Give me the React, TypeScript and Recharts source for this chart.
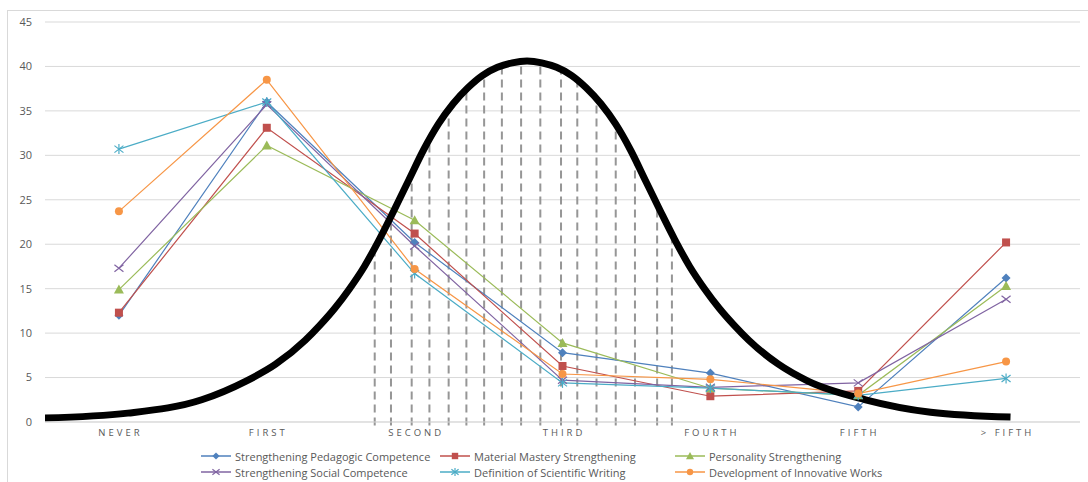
import { LineChart, Line, XAxis, YAxis, CartesianGrid, ReferenceLine } from "recharts";

const categories = ["NEVER", "FIRST", "SECOND", "THIRD", "FOURTH", "FIFTH", "> FIFTH"];

const pedagogic = [12.0, 36.0, 20.2, 7.8, 5.5, 1.7, 16.2];
const material = [12.3, 33.1, 21.2, 6.3, 2.9, 3.5, 20.2];
const personality = [14.9, 31.1, 22.7, 8.9, 3.8, 3.0, 15.3];
const social = [17.3, 35.7, 19.8, 4.7, 3.9, 4.4, 13.8];
const writing = [30.7, 36.0, 16.7, 4.4, 3.8, 3.0, 4.9];
const innovative = [23.7, 38.5, 17.2, 5.4, 4.8, 3.2, 6.8];

const yTicks = [0, 5, 10, 15, 20, 25, 30, 35, 40, 45];

// bell curve: position in category units, height
const curvePos = [
  -0.51, 0.06, 0.56, 0.86, 1.06, 1.26, 1.36, 1.46, 1.56, 1.66, 1.76, 1.86, 1.96, 2.06, 2.16, 2.26, 2.36, 2.46, 2.56, 2.66, 2.76,
  2.86, 2.96, 3.06, 3.16, 3.26, 3.36, 3.46, 3.56, 3.66, 3.76, 3.86, 3.96, 4.06, 4.16, 4.26, 4.46, 4.66, 5.05, 5.49, 6.03,
];
const curveHeight = [
  0.45, 1.0, 2.5, 4.6, 6.5, 9.2, 10.9, 12.8, 15.0, 17.5, 20.5, 23.8, 27.2, 30.6, 33.5, 35.8, 37.6, 39.0, 39.9, 40.4, 40.6,
  40.4, 39.9, 39.0, 37.6, 35.8, 33.5, 30.6, 27.2, 23.8, 20.5, 17.5, 15.0, 12.8, 10.9, 9.2, 6.5, 4.6, 2.5, 1.1, 0.55,
];

// dashed drop lines under the curve
const dashPos = [1.73, 1.84, 1.98, 2.1, 2.23, 2.35, 2.47, 2.59, 2.72, 2.85, 2.99, 3.1, 3.23, 3.36, 3.49, 3.64, 3.74];
const dashTop = [19.6, 23.1, 27.9, 31.8, 35.1, 37.5, 39.1, 40.1, 40.5, 40.4, 39.7, 38.5, 36.3, 33.5, 29.6, 24.5, 21.1];

const FONT = "'Open Sans', 'Liberation Sans', sans-serif";

type SeriesDef = { key: string; name: string; color: string; shape: string; values: number[] };

const series: SeriesDef[] = [
  { key: "pedagogic", name: "Strengthening Pedagogic Competence", color: "#4F81BD", shape: "diamond", values: pedagogic },
  { key: "material", name: "Material Mastery Strengthening", color: "#C0504D", shape: "square", values: material },
  { key: "personality", name: "Personality Strengthening", color: "#9BBB59", shape: "triangle", values: personality },
  { key: "social", name: "Strengthening Social Competence", color: "#8064A2", shape: "x", values: social },
  { key: "writing", name: "Definition of Scientific Writing", color: "#4BACC6", shape: "star", values: writing },
  { key: "innovative", name: "Development of Innovative Works", color: "#F79646", shape: "circle", values: innovative },
];

const rows = categories.map((cat, i) => {
  const row: Record<string, string | number> = { cat };
  series.forEach((s) => (row[s.key] = s.values[i]));
  return row;
});

const curveRows = curvePos.map((u, i) => ({ u, v: curveHeight[i] }));

function Marker({ cx, cy, shape, color, s = 1 }: { cx: number; cy: number; shape: string; color: string; s?: number }) {
  if (cx == null || cy == null) return null;
  switch (shape) {
    case "diamond":
      return <polygon points={`${cx},${cy - 4.5 * s} ${cx + 4.5 * s},${cy} ${cx},${cy + 4.5 * s} ${cx - 4.5 * s},${cy}`} fill={color} />;
    case "square":
      return <rect x={cx - 4 * s} y={cy - 4 * s} width={8 * s} height={8 * s} fill={color} />;
    case "triangle":
      return <polygon points={`${cx},${cy - 5 * s} ${cx + 5 * s},${cy + 4 * s} ${cx - 5 * s},${cy + 4 * s}`} fill={color} />;
    case "circle":
      return <circle cx={cx} cy={cy} r={4 * s} fill={color} />;
    case "x":
      return (
        <g stroke={color} strokeWidth={1.2}>
          <line x1={cx - 4.5 * s} y1={cy - 3.5 * s} x2={cx + 4.5 * s} y2={cy + 3.5 * s} />
          <line x1={cx - 4.5 * s} y1={cy + 3.5 * s} x2={cx + 4.5 * s} y2={cy - 3.5 * s} />
        </g>
      );
    default:
      return (
        <g stroke={color} strokeWidth={1.2}>
          <line x1={cx - 4.5 * s} y1={cy - 3.5 * s} x2={cx + 4.5 * s} y2={cy + 3.5 * s} />
          <line x1={cx - 4.5 * s} y1={cy + 3.5 * s} x2={cx + 4.5 * s} y2={cy - 3.5 * s} />
          <line x1={cx} y1={cy - 5 * s} x2={cx} y2={cy + 5 * s} />
        </g>
      );
  }
}

const CatTick = ({ x, y, payload }: any) => (
  <text x={x + 1.5} y={y + 6} textAnchor="middle" fontSize={9.5} letterSpacing={3} fill="#595959" fontFamily={FONT}>
    {payload.value}
  </text>
);

const legendCols = [201, 440, 675];

export default function App() {
  return (
    <div style={{ position: "absolute", left: 0, top: 0, width: 1088, height: 482, overflow: "hidden", background: "#fff" }}>
      <div style={{ position: "absolute", left: 7, top: 10, width: 1100, height: 500, border: "1px solid #d9d9d9" }} />
      <div style={{ position: "absolute", left: 0, top: 0 }}>
        <LineChart width={1088} height={482} data={rows} margin={{ top: 22, right: 8, left: 0, bottom: 40 }}>
          <CartesianGrid vertical={false} stroke="#d9d9d9" />
          <XAxis
            xAxisId="cat"
            dataKey="cat"
            scale="band"
            tickLine={false}
            axisLine={{ stroke: "#d9d9d9" }}
            height={20}
            tick={<CatTick />}
            interval={0}
          />
          <XAxis xAxisId="curve" type="number" dataKey="u" domain={[-0.5, 6.5]} hide allowDataOverflow />
          <YAxis
            domain={[0, 45]}
            ticks={yTicks}
            tickLine={false}
            axisLine={false}
            width={45}
            tickMargin={7}
            tick={{ fontSize: 11, fill: "#595959", fontFamily: FONT }}
          />
          {dashPos.map((p, i) => (
            <ReferenceLine
              key={p}
              xAxisId="curve"
              ifOverflow="visible"
              segment={[
                { x: p, y: -0.4 },
                { x: p, y: dashTop[i] },
              ]}
              stroke="#969696"
              strokeWidth={2}
              strokeDasharray="8 5"
            />
          ))}
          {series.map((s) => (
            <Line
              key={s.key}
              xAxisId="cat"
              dataKey={s.key}
              name={s.name}
              stroke={s.color}
              strokeWidth={1.2}
              isAnimationActive={false}
              dot={(p: any) => <Marker key={`${s.key}-${p.index}`} cx={p.cx} cy={p.cy} shape={s.shape} color={s.color} />}
              activeDot={false}
            />
          ))}
          <Line
            xAxisId="curve"
            data={curveRows}
            dataKey="v"
            type="monotone"
            stroke="#000"
            strokeWidth={7}
            dot={false}
            activeDot={false}
            isAnimationActive={false}
            legendType="none"
          />
        </LineChart>
      </div>
      {series.map((s, i) => {
        const col = i % 3;
        const row = Math.floor(i / 3);
        return (
          <div
            key={s.key}
            style={{ position: "absolute", left: legendCols[col], top: 449 + row * 16, height: 14, display: "flex", alignItems: "center", fontFamily: FONT, fontSize: 11, color: "#595959", whiteSpace: "nowrap" }}
          >
            <svg width={30} height={14} style={{ marginRight: 4 }}>
              <line x1={0} y1={7} x2={30} y2={7} stroke={s.color} strokeWidth={1.5} />
              <Marker cx={15} cy={7} shape={s.shape} color={s.color} s={0.8} />
            </svg>
            <span>{s.name}</span>
          </div>
        );
      })}
    </div>
  );
}
